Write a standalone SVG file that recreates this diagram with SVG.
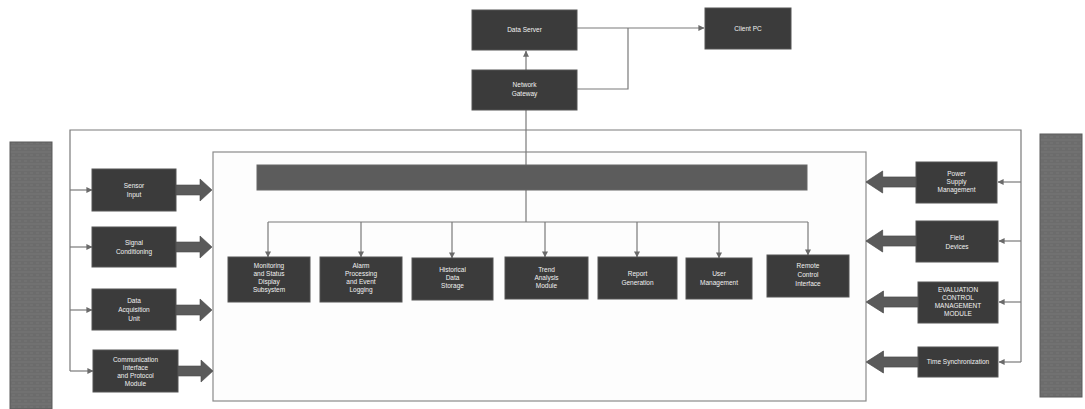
<svg xmlns="http://www.w3.org/2000/svg" width="1085" height="409" viewBox="0 0 1085 409">
<style>
.box{fill:#3b3b3b;stroke:#555;stroke-width:1}
.bar{fill:#6a6a6a;stroke:#5a5a5a;stroke-width:1}
.wide{fill:#5c5c5c;stroke:#666;stroke-width:1}
.ln{fill:none;stroke:#7a7a7a;stroke-width:1.2}
.frame{fill:#fdfdfd;stroke:#8a8a8a;stroke-width:1.2}
.t{font-family:"Liberation Sans",Arial,sans-serif;font-size:6.5px;fill:#f2f2f2;text-anchor:middle}
.fat{fill:#5a5a5a;stroke:#4a4a4a;stroke-width:0.6}
</style>
<defs>
<marker id="ah" viewBox="0 0 8 8" refX="7.5" refY="4" markerWidth="6" markerHeight="6" orient="auto" markerUnits="userSpaceOnUse">
<path d="M0,0 L8,4 L0,8 z" fill="#6a6a6a"/>
</marker>
<path id="fatR" d="M0,-5 H24 V-11 L36,0 L24,11 V5 H0 z"/>
<pattern id="tex" width="6" height="6" patternUnits="userSpaceOnUse">
<rect width="6" height="6" fill="#6c6c6c"/>
<path d="M0,2 H6 M0,5 H3" stroke="#777" stroke-width="0.8"/>
</pattern>
</defs>
<rect width="1085" height="409" fill="#ffffff"/>

<!-- tall side bars -->
<g id="leftbar"><rect x="10" y="142" width="42" height="267" fill="url(#tex)" stroke="#5a5a5a"/></g>
<g id="rightbar"><rect x="1040" y="134" width="42" height="263" fill="url(#tex)" stroke="#5a5a5a"/></g>

<!-- inner main box -->
<g id="mainbox"><rect class="frame" x="213" y="152" width="653" height="249"/></g>

<g id="connectors">
<!-- top -->
<line class="ln" x1="577" y1="28" x2="704" y2="28" marker-end="url(#ah)"/>
<polyline class="ln" points="577,89 628,89 628,28"/>
<line class="ln" x1="526" y1="70" x2="526" y2="51" marker-end="url(#ah)"/>
<line class="ln" x1="526" y1="110" x2="526" y2="165"/>
<!-- outer frame -->
<polyline class="ln" points="70,371 70,130 1021,130 1021,362"/>
<!-- left thin connectors -->
<line class="ln" x1="70" y1="190" x2="92" y2="190" marker-end="url(#ah)"/>
<line class="ln" x1="70" y1="247" x2="92" y2="247" marker-end="url(#ah)"/>
<line class="ln" x1="70" y1="310" x2="92" y2="310" marker-end="url(#ah)"/>
<line class="ln" x1="70" y1="371" x2="93" y2="371" marker-end="url(#ah)"/>
<!-- right thin connectors -->
<line class="ln" x1="1021" y1="182" x2="998" y2="182" marker-end="url(#ah)"/>
<line class="ln" x1="1021" y1="241" x2="999" y2="241" marker-end="url(#ah)"/>
<line class="ln" x1="1021" y1="302" x2="999" y2="302" marker-end="url(#ah)"/>
<line class="ln" x1="1021" y1="362" x2="999" y2="362" marker-end="url(#ah)"/>
<!-- bus -->
<line class="ln" x1="526" y1="190" x2="526" y2="222"/>
<line class="ln" x1="268" y1="222" x2="808" y2="222"/>
<line class="ln" x1="268" y1="222" x2="268" y2="257" marker-end="url(#ah)"/>
<line class="ln" x1="361" y1="222" x2="361" y2="257" marker-end="url(#ah)"/>
<line class="ln" x1="452" y1="222" x2="452" y2="258" marker-end="url(#ah)"/>
<line class="ln" x1="545" y1="222" x2="545" y2="257" marker-end="url(#ah)"/>
<line class="ln" x1="637" y1="222" x2="637" y2="257" marker-end="url(#ah)"/>
<line class="ln" x1="719" y1="222" x2="719" y2="258" marker-end="url(#ah)"/>
<line class="ln" x1="808" y1="222" x2="808" y2="255" marker-end="url(#ah)"/>
<!-- fat arrows left side -->
<use href="#fatR" class="fat" transform="translate(176,190)"/>
<use href="#fatR" class="fat" transform="translate(176,247)"/>
<use href="#fatR" class="fat" transform="translate(176,310)"/>
<use href="#fatR" class="fat" transform="translate(177,371)"/>
<!-- fat arrows right side -->
<use href="#fatR" class="fat" transform="translate(916,182) scale(-1,1) translate(0,0) scale(1.39,1)"/>
<use href="#fatR" class="fat" transform="translate(916,241) scale(-1,1) scale(1.39,1)"/>
<use href="#fatR" class="fat" transform="translate(918,302) scale(-1,1) scale(1.44,1)"/>
<use href="#fatR" class="fat" transform="translate(918,362) scale(-1,1) scale(1.44,1)"/>
</g>

<!-- top nodes -->
<g id="server"><rect class="box" x="472" y="10" width="105" height="40"/><text class="t" x="524.5" y="32">Data Server</text></g>
<g id="gateway"><rect class="box" x="472" y="70" width="105" height="40"/><text class="t" x="524.5" y="87">Network</text><text class="t" x="524.5" y="96">Gateway</text></g>
<g id="client"><rect class="box" x="705" y="8" width="86" height="41"/><text class="t" x="748" y="31">Client PC</text></g>

<!-- wide bus bar -->
<g id="busbar"><rect class="wide" x="257" y="165" width="550" height="25"/></g>

<!-- left input nodes -->
<g id="in1"><rect class="box" x="92" y="169" width="84" height="42"/><text class="t" x="134" y="188">Sensor</text><text class="t" x="134" y="197">Input</text></g>
<g id="in2"><rect class="box" x="92" y="227" width="84" height="40"/><text class="t" x="134" y="245">Signal</text><text class="t" x="134" y="254">Conditioning</text></g>
<g id="in3"><rect class="box" x="92" y="289" width="84" height="41"/><text class="t" x="134" y="303">Data</text><text class="t" x="134" y="312">Acquisition</text><text class="t" x="134" y="321">Unit</text></g>
<g id="in4"><rect class="box" x="93" y="350" width="85" height="42"/><text class="t" x="135.5" y="362">Communication</text><text class="t" x="135.5" y="370">Interface</text><text class="t" x="135.5" y="378">and Protocol</text><text class="t" x="135.5" y="386">Module</text></g>

<!-- inner module nodes -->
<g id="m1"><rect class="box" x="228" y="257" width="82" height="45"/><text class="t" x="269" y="268">Monitoring</text><text class="t" x="269" y="276">and Status</text><text class="t" x="269" y="284">Display</text><text class="t" x="269" y="292">Subsystem</text></g>
<g id="m2"><rect class="box" x="320" y="257" width="82" height="45"/><text class="t" x="361" y="268">Alarm</text><text class="t" x="361" y="276">Processing</text><text class="t" x="361" y="284">and Event</text><text class="t" x="361" y="292">Logging</text></g>
<g id="m3"><rect class="box" x="412" y="258" width="81" height="42"/><text class="t" x="452.5" y="272">Historical</text><text class="t" x="452.5" y="280">Data</text><text class="t" x="452.5" y="288">Storage</text></g>
<g id="m4"><rect class="box" x="505" y="257" width="83" height="42"/><text class="t" x="546.5" y="272">Trend</text><text class="t" x="546.5" y="280">Analysis</text><text class="t" x="546.5" y="288">Module</text></g>
<g id="m5"><rect class="box" x="598" y="257" width="79" height="42"/><text class="t" x="637.5" y="276">Report</text><text class="t" x="637.5" y="285">Generation</text></g>
<g id="m6"><rect class="box" x="686" y="258" width="66" height="41"/><text class="t" x="719" y="276">User</text><text class="t" x="719" y="285">Management</text></g>
<g id="m7"><rect class="box" x="767" y="255" width="82" height="42"/><text class="t" x="808" y="268">Remote</text><text class="t" x="808" y="277">Control</text><text class="t" x="808" y="286">Interface</text></g>

<!-- right nodes -->
<g id="r1"><rect class="box" x="916" y="162" width="81" height="41"/><text class="t" x="956.5" y="176">Power</text><text class="t" x="956.5" y="184">Supply</text><text class="t" x="956.5" y="192">Management</text></g>
<g id="r2"><rect class="box" x="916" y="221" width="82" height="41"/><text class="t" x="957" y="240">Field</text><text class="t" x="957" y="249">Devices</text></g>
<g id="r3"><rect class="box" x="918" y="282" width="80" height="41"/><text class="t" x="958" y="292">EVALUATION</text><text class="t" x="958" y="300">CONTROL</text><text class="t" x="958" y="308">MANAGEMENT</text><text class="t" x="958" y="316">MODULE</text></g>
<g id="r4"><rect class="box" x="918" y="347" width="80" height="30"/><text class="t" x="958" y="364">Time Synchronization</text></g>
</svg>
